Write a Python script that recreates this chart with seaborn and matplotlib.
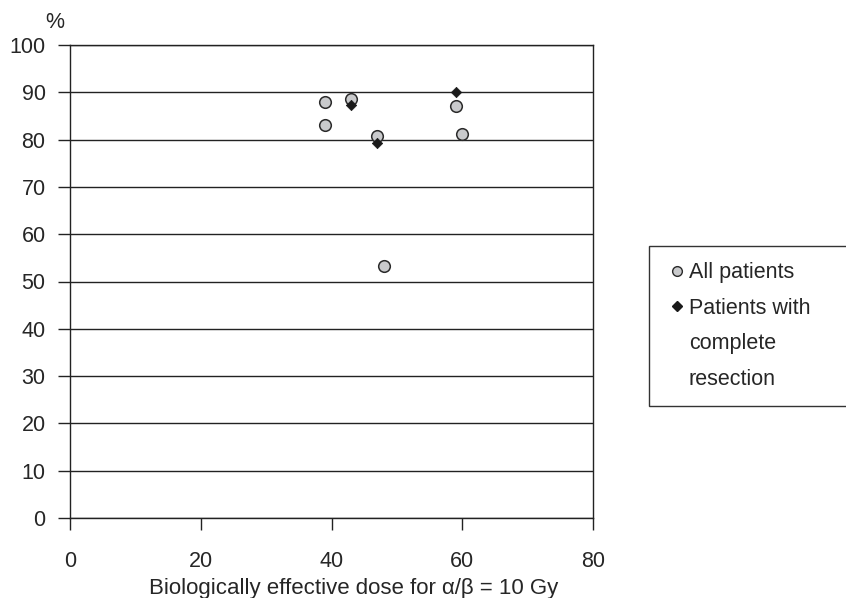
import matplotlib
matplotlib.use("Agg")
import matplotlib.pyplot as plt
from matplotlib.lines import Line2D
import seaborn as sns
import pandas as pd

# Data
dose_all = [39, 39, 43, 47, 48, 59, 60]
surv_all = [88.0, 83.0, 88.5, 80.8, 53.3, 87.1, 81.2]
dose_cr = [43, 47, 59]
surv_cr = [87.4, 79.2, 90.0]
x_ticks = [0, 20, 40, 60, 80]
y_ticks = [0, 10, 20, 30, 40, 50, 60, 70, 80, 90, 100]
label_all = "All patients"
label_cr_lines = ["Patients with", "complete", "resection"]

sns.set_theme(style="ticks")
plt.rcParams['font.family'] = ['Liberation Sans', 'DejaVu Sans']
FS = 15.5
TXT = '#262626'

W, H = 846, 598
fig = plt.figure(figsize=(W / 100, H / 100), dpi=100)
ax = fig.add_axes([70 / W, 1 - 518 / H, (593 - 70) / W, (518 - 45) / H])

df_all = pd.DataFrame({"dose": dose_all, "surv": surv_all})
df_cr = pd.DataFrame({"dose": dose_cr, "surv": surv_cr})

sns.scatterplot(data=df_all, x="dose", y="surv", ax=ax, marker="o", s=70,
                color="#c9cacc", edgecolor="#2a2a2a", linewidth=1.1, zorder=3, legend=False)
sns.scatterplot(data=df_cr, x="dose", y="surv", ax=ax, marker="D", s=28,
                color="#1a1a1a", edgecolor="#1a1a1a", linewidth=0.5, zorder=4, legend=False)

ax.set_xlim(0, 80)
ax.set_ylim(0, 100)
ax.set_xticks(x_ticks)
ax.set_yticks(y_ticks)
ax.set_xticklabels([str(v) for v in x_ticks])
ax.set_yticklabels([str(v) for v in y_ticks])
ax.yaxis.grid(True, color='#222222', linewidth=1.0)
ax.xaxis.grid(False)
for sp in ax.spines.values():
    sp.set_visible(True)
    sp.set_color('#222222')
    sp.set_linewidth(1.0)
ax.tick_params(axis='both', direction='out', length=8.6, width=1.0, color='#222222',
               labelsize=FS, labelcolor=TXT)
ax.tick_params(axis='y', pad=9)
ax.tick_params(axis='x', pad=15)
ax.set_ylabel("")
ax.set_xlabel("Biologically effective dose for α/β = 10 Gy", fontsize=FS + 0.5, color=TXT, va='center')
ax.xaxis.set_label_coords(0.543, -0.148)

fig.text(55 / W, 1 - 22 / H, "%", ha='center', va='center', fontsize=FS, color=TXT)

# Legend
h_all = Line2D([], [], linestyle='none', marker='o', markersize=7,
               markerfacecolor="#c9cacc", markeredgecolor="#2a2a2a", markeredgewidth=1.0)
h_cr = Line2D([], [], linestyle='none', marker='D', markersize=5,
              markerfacecolor="#1a1a1a", markeredgecolor="#1a1a1a")
h_blank = Line2D([], [], linestyle='none', marker=None)
top = 1 - 246 / H
leg = fig.legend([h_all, h_cr, h_blank, h_blank],
                 [label_all] + label_cr_lines,
                 loc='upper left',
                 bbox_to_anchor=(649 / W, top - 0.5, (849 - 649) / W, 0.5),
                 mode='expand',
                 bbox_transform=fig.transFigure, borderaxespad=0,
                 fontsize=FS, frameon=True, fancybox=False, framealpha=1,
                 edgecolor='#333333', facecolor='white',
                 borderpad=0.75, labelspacing=0.68, handlelength=1.1,
                 handletextpad=0.0)
leg.get_frame().set_linewidth(1.0)
for t in leg.get_texts():
    t.set_color(TXT)

fig.savefig("out.png", dpi=100)
